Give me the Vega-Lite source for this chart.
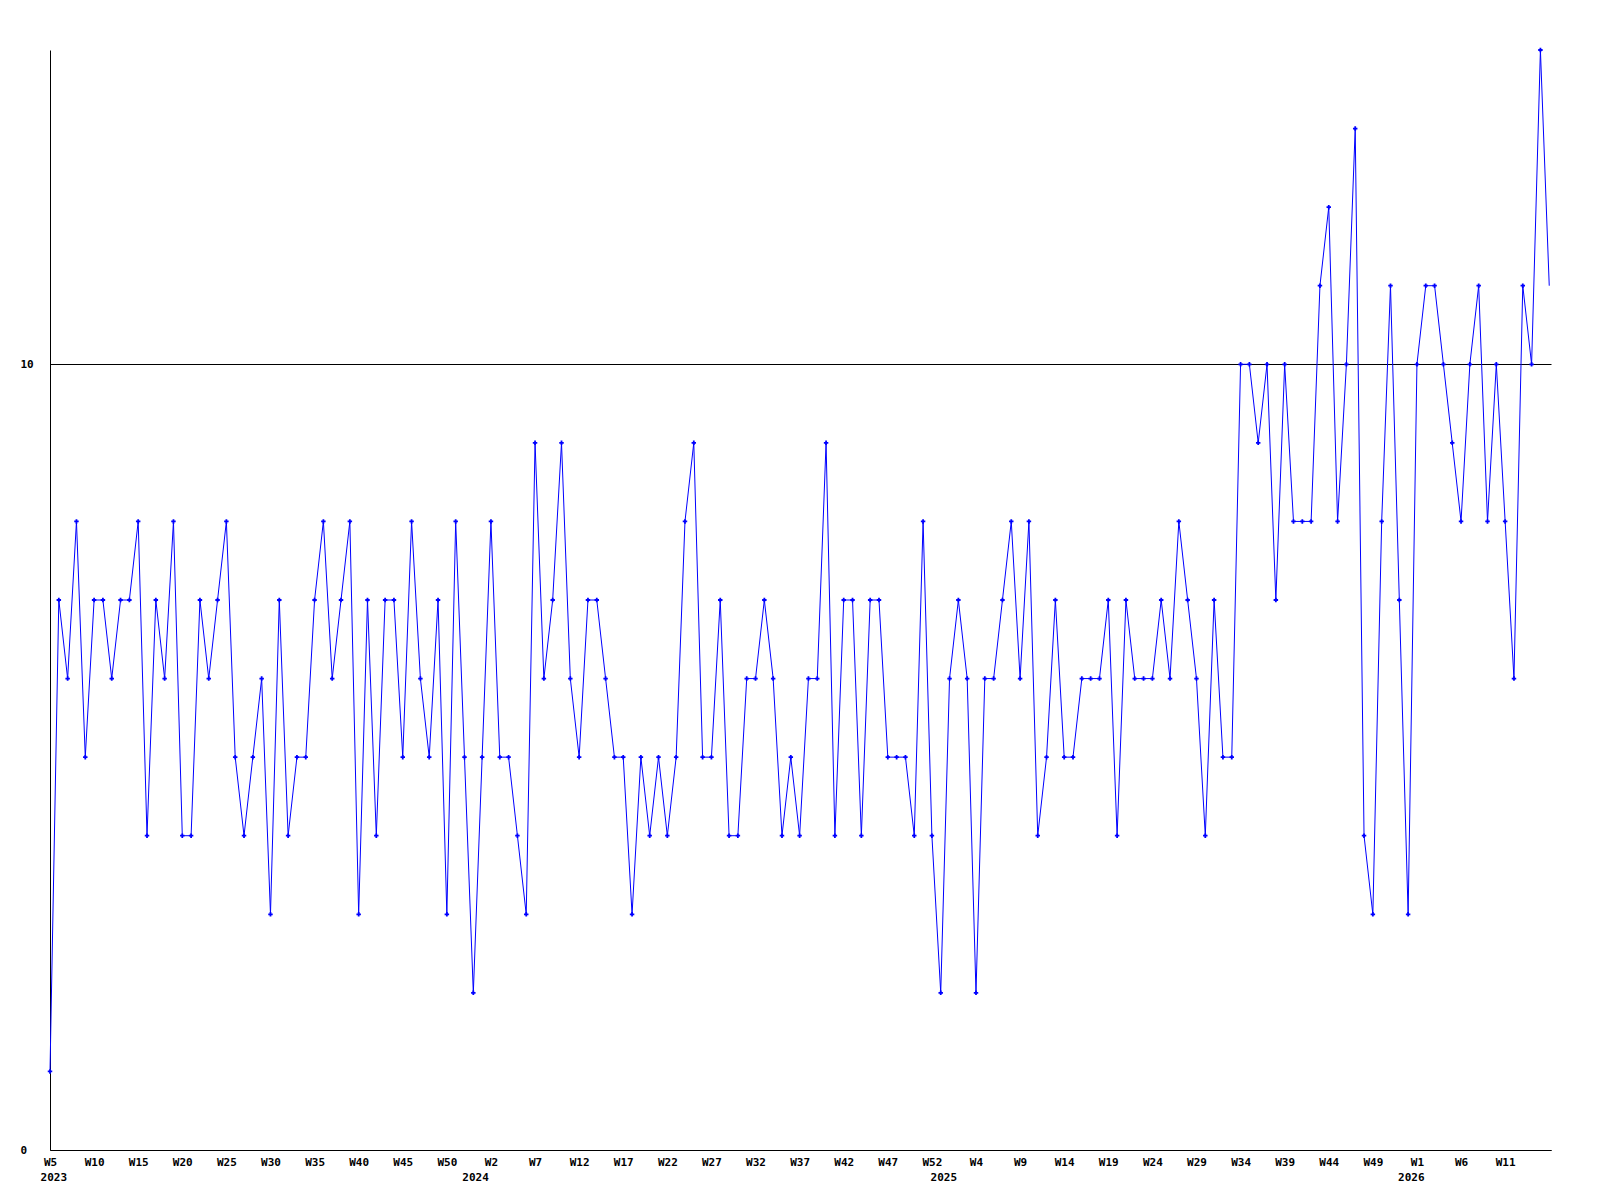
{
  "$schema": "https://vega.github.io/schema/vega-lite/v6.json",
  "width": 1501,
  "height": 1100,
  "autosize": {"type": "none"},
  "padding": {"left": 50, "top": 50, "right": 49, "bottom": 50},
  "background": "white",
  "config": {
    "view": {"stroke": null},
    "axis": {"labelFont": "DejaVu Sans Mono", "labelFontWeight": "bold", "labelFontSize": 11, "labelColor": "black", "domainColor": "black", "domainWidth": 1}
  },
  "data": {"values": [
    {"i":0,"v":1},{"i":1,"v":7},{"i":2,"v":6},{"i":3,"v":8},{"i":4,"v":5},{"i":5,"v":7},{"i":6,"v":7},{"i":7,"v":6},{"i":8,"v":7},{"i":9,"v":7},
    {"i":10,"v":8},{"i":11,"v":4},{"i":12,"v":7},{"i":13,"v":6},{"i":14,"v":8},{"i":15,"v":4},{"i":16,"v":4},{"i":17,"v":7},{"i":18,"v":6},{"i":19,"v":7},
    {"i":20,"v":8},{"i":21,"v":5},{"i":22,"v":4},{"i":23,"v":5},{"i":24,"v":6},{"i":25,"v":3},{"i":26,"v":7},{"i":27,"v":4},{"i":28,"v":5},{"i":29,"v":5},
    {"i":30,"v":7},{"i":31,"v":8},{"i":32,"v":6},{"i":33,"v":7},{"i":34,"v":8},{"i":35,"v":3},{"i":36,"v":7},{"i":37,"v":4},{"i":38,"v":7},{"i":39,"v":7},
    {"i":40,"v":5},{"i":41,"v":8},{"i":42,"v":6},{"i":43,"v":5},{"i":44,"v":7},{"i":45,"v":3},{"i":46,"v":8},{"i":47,"v":5},{"i":48,"v":2},{"i":49,"v":5},
    {"i":50,"v":8},{"i":51,"v":5},{"i":52,"v":5},{"i":53,"v":4},{"i":54,"v":3},{"i":55,"v":9},{"i":56,"v":6},{"i":57,"v":7},{"i":58,"v":9},{"i":59,"v":6},
    {"i":60,"v":5},{"i":61,"v":7},{"i":62,"v":7},{"i":63,"v":6},{"i":64,"v":5},{"i":65,"v":5},{"i":66,"v":3},{"i":67,"v":5},{"i":68,"v":4},{"i":69,"v":5},
    {"i":70,"v":4},{"i":71,"v":5},{"i":72,"v":8},{"i":73,"v":9},{"i":74,"v":5},{"i":75,"v":5},{"i":76,"v":7},{"i":77,"v":4},{"i":78,"v":4},{"i":79,"v":6},
    {"i":80,"v":6},{"i":81,"v":7},{"i":82,"v":6},{"i":83,"v":4},{"i":84,"v":5},{"i":85,"v":4},{"i":86,"v":6},{"i":87,"v":6},{"i":88,"v":9},
    {"i":89,"v":4},{"i":90,"v":7},{"i":91,"v":7},{"i":92,"v":4},{"i":93,"v":7},{"i":94,"v":7},{"i":95,"v":5},{"i":96,"v":5},{"i":97,"v":5},{"i":98,"v":4},
    {"i":99,"v":8},{"i":100,"v":4},{"i":101,"v":2},{"i":102,"v":6},{"i":103,"v":7},{"i":104,"v":6},{"i":105,"v":2},{"i":106,"v":6},{"i":107,"v":6},{"i":108,"v":7},
    {"i":109,"v":8},{"i":110,"v":6},{"i":111,"v":8},{"i":112,"v":4},{"i":113,"v":5},{"i":114,"v":7},{"i":115,"v":5},{"i":116,"v":5},{"i":117,"v":6},
    {"i":118,"v":6},{"i":119,"v":6},{"i":120,"v":7},{"i":121,"v":4},{"i":122,"v":7},{"i":123,"v":6},{"i":124,"v":6},{"i":125,"v":6},{"i":126,"v":7},{"i":127,"v":6},
    {"i":128,"v":8},{"i":129,"v":7},{"i":130,"v":6},{"i":131,"v":4},{"i":132,"v":7},{"i":133,"v":5},{"i":134,"v":5},{"i":135,"v":10},{"i":136,"v":10},{"i":137,"v":9},
    {"i":138,"v":10},{"i":139,"v":7},{"i":140,"v":10},{"i":141,"v":8},{"i":142,"v":8},{"i":143,"v":8},
    {"i":144,"v":11},{"i":145,"v":12},{"i":146,"v":8},{"i":147,"v":10},{"i":148,"v":13},{"i":149,"v":4},{"i":150,"v":3},{"i":151,"v":8},{"i":152,"v":11},{"i":153,"v":7},
    {"i":154,"v":3},{"i":155,"v":10},{"i":156,"v":11},{"i":157,"v":11},{"i":158,"v":10},{"i":159,"v":9},{"i":160,"v":8},{"i":161,"v":10},{"i":162,"v":11},{"i":163,"v":8},
    {"i":164,"v":10},{"i":165,"v":8},{"i":166,"v":6},{"i":167,"v":11},{"i":168,"v":10},{"i":169,"v":14},
    {"i":170,"v":11,"partial":true}
  ]},
  "layer": [
    {
      "mark": {"type": "line", "color": "#0000ff", "strokeWidth": 1},
      "encoding": {
        "x": {
          "field": "i", "type": "quantitative",
          "scale": {"domain": [0, 170.2], "nice": false, "zero": false},
          "axis": {
            "orient": "bottom", "title": null,
            "values": [0,5,10,15,20,25,30,35,40,45,50,55,60,65,70,75,80,85,90,95,100,105,110,115,120,125,130,135,140,145,150,155,160,165],
            "labelExpr": "['W5','W10','W15','W20','W25','W30','W35','W40','W45','W50','W2','W7','W12','W17','W22','W27','W32','W37','W42','W47','W52','W4','W9','W14','W19','W24','W29','W34','W39','W44','W49','W1','W6','W11'][round(datum.value/5)]",
            "ticks": false, "tickSize": 0, "grid": false, "labelPadding": 6, "labelBaseline": "top",
            "labelAlign": "center", "labelFlush": false, "labelOverlap": false
          }
        },
        "y": {
          "field": "v", "type": "quantitative",
          "scale": {"domain": [0, 14], "nice": false},
          "axis": {
            "title": null, "values": [0, 10], "format": "d", "grid": true, "gridColor": "black", "gridOpacity": 1, "gridWidth": 1,
            "ticks": false, "tickSize": 0, "labelAlign": "left", "labelPadding": 30, "labelBaseline": "middle", "labelFlush": false
          }
        }
      }
    },
    {
      "transform": [{"filter": "!datum.partial"}],
      "mark": {"type": "point", "shape": "cross", "filled": true, "color": "#0000ff", "size": 20, "opacity": 1},
      "encoding": {
        "x": {
          "field": "i", "type": "quantitative",
          "axis": {
            "orient": "bottom", "title": null, "values": [0.38, 48.2, 101.3, 154.3],
            "labelExpr": "datum.value < 1 ? '2023' : datum.value < 50 ? '2024' : datum.value < 120 ? '2025' : '2026'",
            "ticks": false, "tickSize": 0, "domain": false, "grid": false, "labelPadding": 21, "labelBaseline": "top",
            "labelAlign": "center", "labelFlush": false, "labelOverlap": false
          }
        },
        "y": {"field": "v", "type": "quantitative"}
      }
    }
  ],
  "resolve": {"axis": {"x": "independent"}}
}
